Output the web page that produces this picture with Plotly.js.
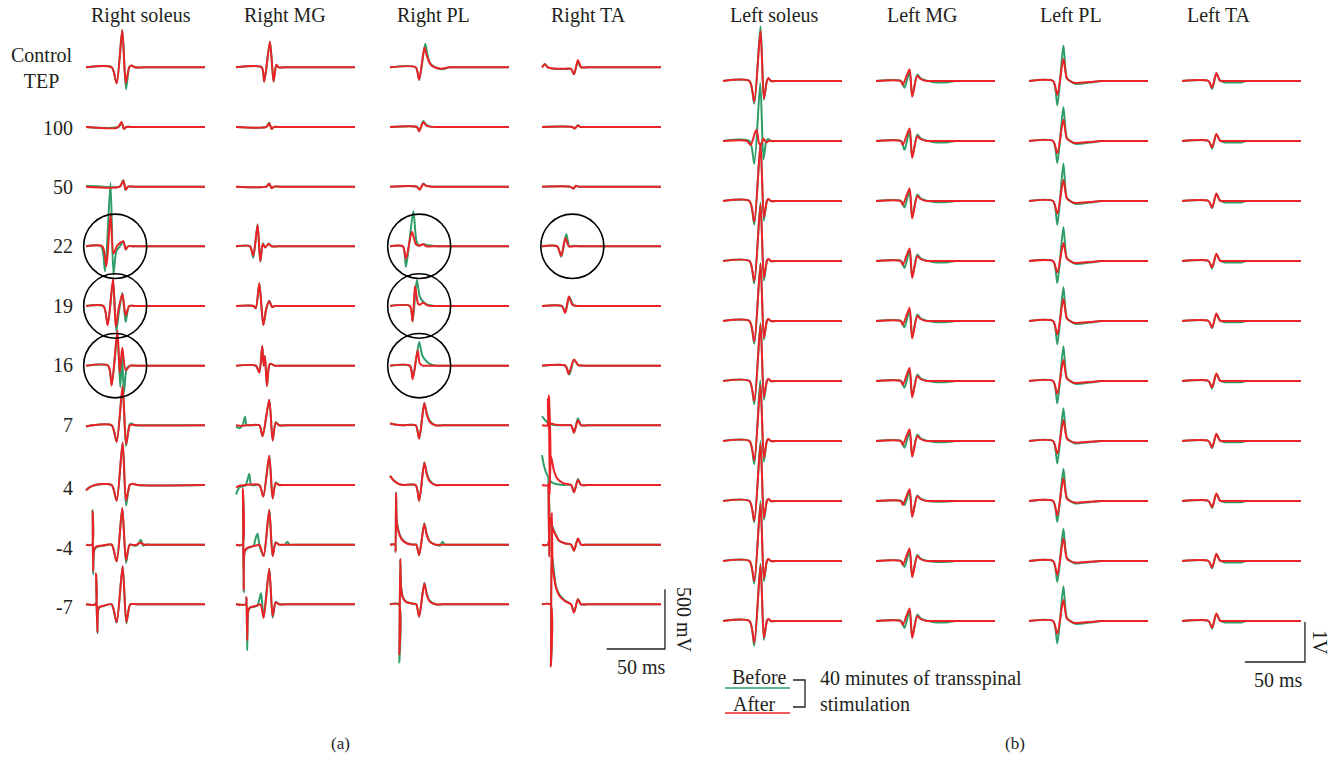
<!DOCTYPE html>
<html><head><meta charset="utf-8">
<script src="https://cdn.plot.ly/plotly-3.0.1.min.js"></script>
<style>html,body{margin:0;padding:0;background:#fff}#chart{width:1335px;height:757px}</style>
</head><body><div id="chart"></div>
<script>
// ---------- labels ----------
const rowLabels = ["Control<br>TEP","100","50","22","19","16","7","4","-4","-7"];
const musclesA = ["Right soleus","Right MG","Right PL","Right TA"];
const musclesB = ["Left soleus","Left MG","Left PL","Left TA"];

// ---------- panel (a): [time ms, amplitude mV] per row ----------
const rightSoleusBefore = [
 [[0,0],[22,0],[26.3,-134],[31.1,312],[34.3,-184],[37.1,0],[39,15],[42,0],[50,0],[102,0]],
 [[0,0],[28,0],[30.5,35],[32.5,-18],[34.5,0],[40,0],[102,0]],
 [[0,5],[10,3],[29,0],[32,56],[34,-28],[36,0],[42,0],[102,0]],
 [[0,0],[13,0],[16.3,-209],[21,530],[23.5,-237],[26,-40],[29,0],[32,42],[34,-28],[36,0],[42,0],[102,0]],
 [[0,0],[15,0],[18.6,-150],[23.2,200],[26,-210],[28.5,-30],[31.2,110],[34,-134],[37,0],[42,0],[102,0]],
 [[0,0],[19,0],[22,-160],[26.9,250],[29.4,-180],[31,90],[32.5,-230],[35,-20],[37.7,0],[43,0],[102,0]],
 [[0,-10],[5,0],[22,0],[26.3,-135],[31.4,320],[34.3,-173],[37.5,10],[39,15],[42,0],[50,0],[102,0]],
 [[0,-45],[3,-20],[8,0],[22,0],[26.3,-131],[31.4,357],[34.3,-173],[37.5,0],[40,10],[44,0],[102,0]],
 [[0,0],[5.2,0],[5.7,290],[6.1,-250],[7,-50],[9,-20],[15,-10],[22,0],[26.3,-140],[31.1,307],[34.3,-153],[37.5,0],[42,-10],[44,-5],[47,42],[49,-10],[51,0],[56,0],[102,0]],
 [[0,0],[8.2,0],[8.6,259],[9.7,-243],[11,-30],[15,-15],[22,0],[26.3,-153],[31.4,320],[34.6,-160],[38,0],[44,0],[102,0]]
];
const rightSoleusAfter = [
 [[0,0],[22,0],[26.3,-134],[31.1,312],[34,-134],[37,0],[39,15],[42,0],[50,0],[102,0]],
 [[0,0],[27,-5],[30.5,42],[32.5,-15],[34.5,0],[40,0],[102,0]],
 [[0,0],[29,0],[32,50],[34,-25],[36,0],[42,0],[102,0]],
 [[0,0],[14,0],[17.5,-167],[21,273],[23.5,-60],[27,10],[32,42],[34,-25],[36,0],[42,0],[102,0]],
 [[0,0],[15,0],[18.6,-162],[23.2,230],[25.5,-175],[28,-20],[31.2,100],[34,-80],[37,0],[42,0],[102,0]],
 [[0,0],[19,0],[22,-167],[26.9,296],[28.9,-60],[31.1,150],[34,-40],[37.7,0],[43,0],[102,0]],
 [[0,-10],[5,0],[22,0],[26.3,-139],[31.4,329],[34.3,-159],[37.5,0],[40,5],[45,0],[102,0]],
 [[0,-45],[3,-20],[8,0],[22,0],[26.3,-131],[31.4,357],[34.3,-131],[37.5,0],[40,10],[44,0],[102,0]],
 [[0,0],[5.2,0],[5.7,279],[6.1,-223],[7,-40],[9,-15],[15,-5],[22,0],[26.3,-140],[31.1,307],[34.3,-130],[37.5,0],[42,-5],[47,15],[50,0],[56,0],[102,0]],
 [[0,0],[8.2,0],[8.6,259],[9.7,-230],[11,-25],[15,-12],[22,0],[26.3,-150],[31.4,320],[34.6,-150],[38,0],[44,0],[102,0]]
];
const rightMGBefore = [
 [[0,0],[22,0],[24.2,-120],[29.1,215],[32.2,-120],[34.5,20],[36.5,0],[42,0],[102,0]],
 [[0,0],[26,0],[28.5,38],[30.5,-17],[32.5,0],[38,0],[102,0]],
 [[0,0],[26,0],[28.5,27],[30.5,-14],[32.5,0],[38,0],[102,0]],
 [[0,0],[12,0],[14.8,-96],[18.5,185],[20.8,-130],[23,25],[25,-10],[28,24],[30.5,0],[36,0],[102,0]],
 [[0,0],[15,0],[17,-20],[20,191],[23.4,-160],[26,-20],[28.5,44],[31,-10],[33,0],[38,0],[102,0]],
 [[0,0],[17,0],[20,-58],[22.5,164],[23.7,0],[24.8,80],[26.5,-170],[28.5,5],[30,15],[33,0],[38,0],[102,0]],
 [[0,-10],[3,-25],[6,10],[7.7,72],[9,5],[12,0],[20,0],[22.8,-92],[28.5,215],[31.4,-127],[34,27],[37,0],[42,0],[102,0]],
 [[0,-79],[3,-20],[8,-5],[11.4,92],[13,0],[20,0],[23.4,-96],[28.5,246],[31.4,-113],[34,20],[37,0],[42,0],[102,0]],
 [[0,0],[5.5,0],[5.9,450],[6.6,-400],[7.5,-60],[10,-30],[15,-10],[17,60],[18.5,92],[20,0],[23.7,-96],[28.5,290],[31.4,-96],[34,20],[37,0],[42,0],[44,24],[46,0],[52,0],[102,0]],
 [[0,0],[8.5,0],[9,60],[9.6,-386],[10.5,-60],[12,-27],[18,-15],[21.4,92],[22.5,0],[23.7,-113],[28.5,298],[31.4,-113],[34,20],[37,0],[42,0],[102,0]]
];
const rightMGAfter = [
 [[0,0],[22,0],[24.2,-120],[29.1,215],[32.2,-120],[34.5,20],[36.5,0],[42,0],[102,0]],
 [[0,0],[26,0],[28.5,32],[30.5,-15],[32.5,0],[38,0],[102,0]],
 [[0,0],[26,0],[28.5,24],[30.5,-12],[32.5,0],[38,0],[102,0]],
 [[0,0],[12,0],[14.8,-79],[18.5,178],[20.8,-125],[23,20],[25,-10],[28,20],[30.5,0],[36,0],[102,0]],
 [[0,0],[15,0],[17,-18],[20,191],[23.4,-160],[26,-20],[28.5,40],[31,-10],[33,0],[38,0],[102,0]],
 [[0,0],[17,0],[20,-58],[22.5,164],[23.7,0],[24.8,80],[26.5,-170],[28.5,5],[30,15],[33,0],[38,0],[102,0]],
 [[0,0],[5,-5],[10,0],[20,0],[22.8,-92],[28.5,215],[31.4,-127],[34,20],[37,0],[42,0],[102,0]],
 [[0,-20],[4,-5],[8,0],[20,0],[23.4,-96],[28.5,246],[31.4,-113],[34,15],[37,0],[42,0],[102,0]],
 [[0,0],[5.5,0],[5.9,470],[6.6,-380],[7.5,-50],[10,-25],[18,-5],[20,0],[23.7,-96],[28.5,290],[31.4,-96],[34,15],[37,0],[42,0],[102,0]],
 [[0,0],[8.5,0],[9,60],[9.6,-300],[10.5,-50],[12,-27],[18,-10],[21,0],[23.7,-113],[28.5,298],[31.4,-100],[34,15],[37,0],[42,0],[102,0]]
];
const rightPLBefore = [
 [[0,0],[22,0],[25,-104],[30.2,198],[32,110],[34,40],[37,10],[43.6,-17],[51,0],[58,0],[102,0]],
 [[0,0],[23,0],[25,-35],[28.5,50],[31,18],[34,5],[40,0],[46,0],[102,0]],
 [[0,0],[23,0],[25.5,-24],[28.5,26],[31,8],[36,0],[42,0],[102,0]],
 [[0,0],[11,0],[13.7,-174],[20,295],[22.8,40],[25.5,5],[28.5,20],[31,12],[36,5],[40,0],[46,0],[102,0]],
 [[0,0],[17,0],[19.4,-128],[23,219],[25.5,80],[28.5,35],[32,10],[38,0],[44,0],[102,0]],
 [[0,0],[17,0],[19.7,-97],[25,198],[27.5,90],[30,50],[34,15],[40,0],[46,0],[102,0]],
 [[0,15],[5,5],[11,0],[22,0],[25,-111],[29.4,190],[31.5,100],[34,40],[39,0],[45,0],[102,0]],
 [[0,76],[3,40],[7,12],[11,0],[22,0],[25,-132],[29.4,190],[31.5,100],[34,40],[39,0],[45,0],[102,0]],
 [[0,0],[4.5,0],[4.8,-60],[5.2,440],[5.8,200],[7.5,110],[10,50],[14,15],[20,0],[22.5,0],[25,-87],[29.4,180],[31.5,90],[34,30],[39,0],[43,-8],[45,24],[47,0],[52,0],[102,0]],
 [[0,0],[7.6,0],[8,-490],[8.8,380],[9.5,150],[11,60],[14,20],[20,5],[22.5,0],[25,-104],[29.4,180],[31.5,90],[34,30],[39,0],[45,0],[102,0]]
];
const rightPLAfter = [
 [[0,0],[22,0],[25,-104],[29.5,163],[31.5,100],[34,35],[37,5],[43.6,-12],[51,0],[58,0],[102,0]],
 [[0,0],[23,0],[25,-35],[28.5,42],[31,12],[34,3],[40,0],[46,0],[102,0]],
 [[0,0],[23,0],[25.5,-24],[28.5,22],[31,6],[36,0],[42,0],[102,0]],
 [[0,0],[11,0],[13.7,-104],[18.8,121],[22.2,17],[25,5],[28.5,17],[31,0],[37,0],[102,0]],
 [[0,0],[17,0],[19.4,-128],[21.4,167],[24,20],[25.5,10],[28.5,28],[32,5],[38,0],[44,0],[102,0]],
 [[0,0],[17,0],[19.4,-115],[23.7,128],[25.5,20],[28,0],[34,0],[102,0]],
 [[0,15],[5,5],[11,0],[22,0],[25,-111],[29.4,184],[31.5,90],[34,30],[39,0],[45,0],[102,0]],
 [[0,76],[3,40],[7,12],[11,0],[22,0],[25,-132],[29.4,187],[31.5,90],[34,30],[39,0],[45,0],[102,0]],
 [[0,0],[4.5,0],[4.8,-60],[5.2,434],[5.8,190],[7.5,100],[10,45],[14,12],[20,0],[22.5,0],[25,-87],[29.4,174],[31.5,80],[34,25],[39,0],[45,0],[102,0]],
 [[0,0],[7.6,0],[8,-420],[8.8,382],[9.5,140],[11,55],[14,18],[20,5],[22.5,0],[25,-104],[29.4,174],[31.5,80],[34,25],[39,0],[45,0],[102,0]]
];
const rightTABefore = [
 [[0,0],[2.5,28],[5,0],[10,-12],[20,-15],[25,-15],[27.4,-59],[30.8,45],[33.5,0],[39,0],[102,0]],
 [[0,0],[26,0],[28,-14],[30.8,14],[33,0],[38,0],[102,0]],
 [[0,0],[24,0],[27,-17],[29,8],[31,0],[36,0],[102,0]],
 [[0,0],[13,0],[16.5,-87],[20.8,104],[23.5,0],[28,5],[32,0],[38,0],[102,0]],
 [[0,0],[17,0],[19.9,-50],[23.5,75],[27,5],[32,0],[38,0],[102,0]],
 [[0,0],[20,0],[23.5,-75],[27.4,50],[31,5],[36,0],[42,0],[102,0]],
 [[0,76],[3,40],[6,15],[10,3],[15,0],[25,0],[27.4,-62],[30.8,59],[33.5,0],[39,0],[102,0]],
 [[0,250],[2,150],[4.5,80],[8,25],[12,8],[18,0],[25,0],[27.4,-62],[30.8,50],[33.5,0],[39,0],[102,0]],
 [[0,0],[5,0],[5.5,550],[6.2,-100],[7,230],[9,150],[12,80],[15,30],[20,10],[25,0],[27.4,-52],[30.8,52],[33.5,0],[39,0],[102,0]],
 [[0,0],[7.2,0],[7.6,-520],[8.4,420],[10,300],[12,150],[15,80],[20,30],[25,0],[27.4,-69],[30.8,42],[33.5,0],[39,0],[102,0]]
];
const rightTAAfter = [
 [[0,0],[2.5,25],[5,0],[10,-10],[20,-12],[25,-12],[27.4,-59],[30.8,62],[33.5,0],[39,0],[102,0]],
 [[0,0],[26,0],[28,-12],[30.8,12],[33,0],[38,0],[102,0]],
 [[0,0],[24,0],[27,-15],[29,7],[31,0],[36,0],[102,0]],
 [[0,0],[13,0],[16.5,-80],[20,69],[23,0],[27,0],[102,0]],
 [[0,0],[17,0],[19.9,-59],[23,80],[26,10],[30,0],[36,0],[102,0]],
 [[0,0],[20,0],[22.8,-69],[27.4,52],[31,5],[36,0],[42,0],[102,0]],
 [[0,0],[4.5,0],[5,220],[5.6,-30],[7,15],[12,5],[20,0],[25,0],[27.4,-62],[30.8,42],[33.5,0],[39,0],[102,0]],
 [[0,0],[5.5,0],[6,750],[6.6,-80],[7.5,250],[10,130],[13,55],[18,15],[25,0],[27.4,-62],[30.8,42],[33.5,0],[39,0],[102,0]],
 [[0,0],[5,0],[5.5,500],[6.2,-100],[7,225],[9,140],[12,75],[15,30],[20,10],[25,0],[27.4,-52],[30.8,52],[33.5,0],[39,0],[102,0]],
 [[0,0],[7.2,0],[7.6,-520],[8.4,770],[9.2,300],[10,250],[12,140],[15,70],[20,25],[25,0],[27.4,-69],[30.8,42],[33.5,0],[39,0],[102,0]]
];

// ---------- panel (b): [time ms, amplitude mV] per row ----------
const leftSoleusBefore = [
 [[0,0],[22,0],[26,-570],[31.2,1370],[34,-470],[36.5,0],[37.7,72],[40,0],[46,0],[99,0]],
 [[0,0],[22,0],[26,-570],[31,1450],[33.7,-460],[36,0],[37.5,50],[40,0],[46,0],[99,0]],
 [[0,0],[22,0],[26,-590],[31.2,1450],[34,-490],[36.5,0],[37.7,50],[40,0],[46,0],[99,0]],
 [[0,0],[22,0],[26,-560],[31.2,1460],[34,-490],[36.5,0],[37.7,50],[40,0],[46,0],[99,0]],
 [[0,0],[22,0],[26,-570],[31.2,1450],[34,-470],[36.5,0],[37.7,50],[40,0],[46,0],[99,0]],
 [[0,0],[22,0],[26,-580],[31.2,1450],[34,-470],[36.5,0],[37.7,50],[40,0],[46,0],[99,0]],
 [[0,0],[22,0],[26,-580],[31,1520],[34,-520],[36.5,0],[37.7,50],[40,0],[46,0],[99,0]],
 [[0,0],[22,0],[26,-530],[31.2,1500],[34,-470],[36.5,0],[37.7,50],[40,0],[46,0],[99,0]],
 [[0,0],[22,0],[26,-560],[31.2,1500],[34,-500],[36.5,0],[37.7,50],[40,0],[46,0],[99,0]],
 [[0,0],[22,0],[26,-620],[31.2,1430],[34,-470],[36.5,0],[37.7,50],[40,0],[46,0],[99,0]]
];
const leftSoleusAfter = [
 [[0,0],[22,0],[26,-520],[31.2,1250],[34,-440],[36.5,0],[37.7,72],[40,0],[46,0],[99,0]],
 [[0,0],[20,0],[23,-100],[26.5,200],[28,280],[30,-60],[31.5,-120],[33.5,60],[36,-40],[38,0],[44,0],[99,0]],
 [[0,0],[22,0],[26,-520],[31.2,1420],[34,-410],[36.5,0],[37.7,50],[40,0],[46,0],[99,0]],
 [[0,0],[22,0],[26,-500],[31.2,1420],[34,-420],[36.5,0],[37.7,50],[40,0],[46,0],[99,0]],
 [[0,0],[22,0],[26,-510],[31.2,1430],[34,-420],[36.5,0],[37.7,50],[40,0],[46,0],[99,0]],
 [[0,0],[22,0],[26,-500],[31.2,1420],[34,-400],[36.5,0],[37.7,50],[40,0],[46,0],[99,0]],
 [[0,0],[22,0],[26,-480],[31.2,1400],[34,-420],[36.5,0],[37.7,50],[40,0],[46,0],[99,0]],
 [[0,0],[22,0],[26,-490],[31.2,1430],[34,-420],[36.5,0],[37.7,50],[40,0],[46,0],[99,0]],
 [[0,0],[22,0],[26,-500],[31.2,1440],[34,-430],[36.5,0],[37.7,50],[40,0],[46,0],[99,0]],
 [[0,0],[22,0],[26,-540],[31.2,1400],[34,-420],[36.5,0],[37.7,50],[40,0],[46,0],[99,0]]
];
const leftMGBefore = [
 [[0,0],[21,0],[23.7,-170],[27.9,240],[30.1,-370],[34.3,160],[37,70],[42,10],[50,-35],[60,-30],[66,0],[72,0],[99,0]],
 [[0,0],[21,0],[23.7,-227],[27.9,260],[30.1,-400],[34.3,160],[37,70],[42,10],[50,-35],[60,-30],[66,0],[72,0],[99,0]],
 [[0,0],[21,0],[23.7,-160],[27.9,260],[30.1,-410],[34.3,160],[37,70],[42,10],[50,-30],[60,-25],[66,0],[72,0],[99,0]],
 [[0,0],[21,0],[23.7,-177],[27.9,260],[30.1,-400],[34.3,160],[37,70],[42,10],[50,-35],[60,-30],[66,0],[72,0],[99,0]],
 [[0,0],[21,0],[23.7,-160],[27.9,270],[30.1,-410],[34.3,160],[37,70],[42,10],[50,-30],[60,-25],[66,0],[72,0],[99,0]],
 [[0,0],[21,0],[23.7,-170],[27.9,270],[30.1,-390],[34.3,160],[37,70],[42,10],[50,-30],[60,-25],[66,0],[72,0],[99,0]],
 [[0,0],[21,0],[23.7,-170],[27.9,240],[30.1,-370],[34.3,160],[37,70],[42,10],[50,-30],[60,-25],[66,0],[72,0],[99,0]],
 [[0,0],[21,0],[23.7,-100],[27.9,250],[30.1,-380],[34.3,140],[37,60],[42,5],[50,-20],[60,-15],[66,0],[72,0],[99,0]],
 [[0,0],[21,0],[23.7,-148],[27.9,260],[30.1,-390],[34.3,150],[37,60],[42,5],[50,-25],[60,-20],[66,0],[72,0],[99,0]],
 [[0,0],[21,0],[23.7,-177],[27.9,260],[30.1,-400],[34.3,160],[37,70],[42,10],[50,-35],[60,-30],[66,0],[72,0],[99,0]]
];
const leftMGAfter = [
 [[0,0],[20.5,0],[22.3,-98],[27.9,295],[30.1,-394],[34.3,128],[37,50],[42,0],[48,0],[99,0]],
 [[0,0],[20.5,0],[22.3,-98],[27.9,315],[30.1,-423],[34.3,118],[37,50],[42,0],[48,0],[99,0]],
 [[0,0],[20.5,0],[22.3,-98],[27.9,315],[30.1,-435],[34.3,120],[37,50],[42,0],[48,0],[99,0]],
 [[0,0],[20.5,0],[22.3,-98],[27.9,315],[30.1,-423],[34.3,120],[37,50],[42,0],[48,0],[99,0]],
 [[0,0],[20.5,0],[22.3,-98],[27.9,325],[30.1,-435],[34.3,120],[37,50],[42,0],[48,0],[99,0]],
 [[0,0],[20.5,0],[22.3,-98],[27.9,325],[30.1,-410],[34.3,120],[37,50],[42,0],[48,0],[99,0]],
 [[0,0],[20.5,0],[22.3,-98],[27.9,295],[30.1,-394],[34.3,120],[37,50],[42,0],[48,0],[99,0]],
 [[0,0],[20.5,0],[22.3,-98],[27.9,295],[30.1,-394],[34.3,120],[37,50],[42,0],[48,0],[99,0]],
 [[0,0],[20.5,0],[22.3,-98],[27.9,315],[30.1,-404],[34.3,120],[37,50],[42,0],[48,0],[99,0]],
 [[0,0],[20.5,0],[22.3,-98],[27.9,315],[30.1,-423],[34.3,120],[37,50],[42,0],[48,0],[99,0]]
];
const leftPLBefore = [
 [[0,0],[20,0],[23.6,-610],[28.6,886],[31.4,80],[34,10],[38.4,-70],[50,-40],[60,0],[66,0],[99,0]],
 [[0,0],[20,0],[23.6,-550],[28.6,847],[31.4,80],[34,10],[38.4,-70],[50,-40],[60,0],[66,0],[99,0]],
 [[0,0],[20,0],[23.6,-590],[28.6,935],[31.4,80],[34,10],[38.4,-70],[50,-40],[60,0],[66,0],[99,0]],
 [[0,0],[20,0],[23.6,-550],[28.6,847],[31.4,80],[34,10],[38.4,-70],[50,-40],[60,0],[66,0],[99,0]],
 [[0,0],[20,0],[23.6,-581],[28.6,847],[31.4,80],[34,10],[38.4,-70],[50,-40],[60,0],[66,0],[99,0]],
 [[0,0],[20,0],[23.6,-561],[28.6,866],[31.4,80],[34,10],[38.4,-70],[50,-40],[60,0],[66,0],[99,0]],
 [[0,0],[20,0],[23.6,-561],[28.6,817],[31.4,80],[34,10],[38.4,-60],[50,-30],[60,0],[66,0],[99,0]],
 [[0,0],[20,0],[23.6,-521],[28.6,807],[31.4,80],[34,10],[38.4,-60],[50,-30],[60,0],[66,0],[99,0]],
 [[0,0],[20,0],[23.6,-522],[28.6,807],[31.4,80],[34,10],[38.4,-60],[50,-30],[60,0],[66,0],[99,0]],
 [[0,0],[20,0],[23.6,-561],[28.6,866],[31.4,80],[34,10],[38.4,-70],[50,-40],[60,0],[66,0],[99,0]]
];
const leftPLAfter = [
 [[0,0],[20,0],[23.6,-345],[28.6,551],[31.4,70],[34,0],[38.4,-50],[50,-25],[60,0],[66,0],[99,0]],
 [[0,0],[20,0],[23.6,-307],[28.6,532],[31.4,70],[34,0],[38.4,-50],[50,-25],[60,0],[66,0],[99,0]],
 [[0,0],[20,0],[23.6,-315],[28.6,522],[31.4,70],[34,0],[38.4,-50],[50,-25],[60,0],[66,0],[99,0]],
 [[0,0],[20,0],[23.6,-285],[28.6,453],[31.4,70],[34,0],[38.4,-50],[50,-25],[60,0],[66,0],[99,0]],
 [[0,0],[20,0],[23.6,-335],[28.6,551],[31.4,70],[34,0],[38.4,-50],[50,-25],[60,0],[66,0],[99,0]],
 [[0,0],[20,0],[23.6,-315],[28.6,522],[31.4,70],[34,0],[38.4,-50],[50,-25],[60,0],[66,0],[99,0]],
 [[0,0],[20,0],[23.6,-315],[28.6,522],[31.4,70],[34,0],[38.4,-40],[50,-20],[60,0],[66,0],[99,0]],
 [[0,0],[20,0],[23.6,-354],[28.6,561],[31.4,70],[34,0],[38.4,-40],[50,-20],[60,0],[66,0],[99,0]],
 [[0,0],[20,0],[23.6,-345],[28.6,561],[31.4,70],[34,0],[38.4,-40],[50,-20],[60,0],[66,0],[99,0]],
 [[0,0],[20,0],[23.6,-315],[28.6,522],[31.4,70],[34,0],[38.4,-50],[50,-25],[60,0],[66,0],[99,0]]
];
const leftTABefore = [
 [[0,0],[22,0],[25,-197],[28.6,180],[31.5,20],[35,-30],[50,-30],[53,0],[58,0],[99,0]],
 [[0,0],[22,0],[25,-187],[28.6,170],[31.5,20],[35,-30],[50,-30],[53,0],[58,0],[99,0]],
 [[0,0],[22,0],[25,-180],[28.6,175],[31.5,20],[35,-30],[50,-30],[53,0],[58,0],[99,0]],
 [[0,0],[22,0],[25,-185],[28.6,170],[31.5,20],[35,-30],[50,-30],[53,0],[58,0],[99,0]],
 [[0,0],[22,0],[25,-180],[28.6,175],[31.5,20],[35,-25],[50,-25],[53,0],[58,0],[99,0]],
 [[0,0],[22,0],[25,-185],[28.6,175],[31.5,20],[35,-25],[50,-25],[53,0],[58,0],[99,0]],
 [[0,0],[22,0],[25,-180],[28.6,170],[31.5,20],[35,-25],[50,-25],[53,0],[58,0],[99,0]],
 [[0,0],[22,0],[25,-175],[28.6,175],[31.5,20],[35,-25],[50,-25],[53,0],[58,0],[99,0]],
 [[0,0],[22,0],[25,-185],[28.6,170],[31.5,20],[35,-30],[50,-30],[53,0],[58,0],[99,0]],
 [[0,0],[22,0],[25,-190],[28.6,175],[31.5,20],[35,-30],[50,-30],[53,0],[58,0],[99,0]]
];
const leftTAAfter = [
 [[0,0],[22,0],[25,-167],[28.6,197],[31.5,10],[34,0],[40,0],[99,0]],
 [[0,0],[22,0],[25,-158],[28.6,177],[31.5,10],[34,0],[40,0],[99,0]],
 [[0,0],[22,0],[25,-160],[28.6,185],[31.5,10],[34,0],[40,0],[99,0]],
 [[0,0],[22,0],[25,-158],[28.6,180],[31.5,10],[34,0],[40,0],[99,0]],
 [[0,0],[22,0],[25,-160],[28.6,185],[31.5,10],[34,0],[40,0],[99,0]],
 [[0,0],[22,0],[25,-158],[28.6,185],[31.5,10],[34,0],[40,0],[99,0]],
 [[0,0],[22,0],[25,-160],[28.6,180],[31.5,10],[34,0],[40,0],[99,0]],
 [[0,0],[22,0],[25,-155],[28.6,185],[31.5,10],[34,0],[40,0],[99,0]],
 [[0,0],[22,0],[25,-160],[28.6,180],[31.5,10],[34,0],[40,0],[99,0]],
 [[0,0],[22,0],[25,-165],[28.6,185],[31.5,10],[34,0],[40,0],[99,0]]
];

// circled responses (panel a): column, row, centre time (ms)
const circleCols = [0,0,0,2,2,2,3];
const circleRows = [3,4,5,3,4,5,3];
const circleTimes = [25,25,25,25,25,25,26];

// scale bars
const scaleA = {ms:50, mV:500, label:"500 mV"};
const scaleB = {ms:50, mV:1000, label:"1V"};

// ---------- layout geometry (pixels) ----------
const W = 1335, H = 757;
const GREEN = '#2f9d68', RED = '#ec2227', INK = '#231f20';
const FONT = 'Liberation Serif, Times New Roman, serif';
const FS = 20;
const A = {cols:[86,236,390,542], T:102, pxPerMs:119/102, base0:67.3, rowPx:59.67, spacing:500};
const B = {cols:[723,876,1029,1182], T:99, pxPerMs:119/99, base0:81, rowPx:60, spacing:1500};
const PAD = 12; // ms of padding each side of a column
[A,B].forEach(P=>{ P.k = P.rowPx/P.spacing; P.top = P.base0/P.k; P.bot = P.top - H/P.k; });

const px = v => v / W;
const py = v => 1 - v / H;

const layout = {
  width: W, height: H, margin:{l:0,r:0,t:0,b:0}, showlegend:false,
  paper_bgcolor:'#fff', plot_bgcolor:'rgba(0,0,0,0)',
  annotations:[], shapes:[]
};
const traces = [];
const dataA = [[rightSoleusBefore,rightSoleusAfter],[rightMGBefore,rightMGAfter],[rightPLBefore,rightPLAfter],[rightTABefore,rightTAAfter]];
const dataB = [[leftSoleusBefore,leftSoleusAfter],[leftMGBefore,leftMGAfter],[leftPLBefore,leftPLAfter],[leftTABefore,leftTAAfter]];

layout.yaxis = {domain:[0,1], range:[A.bot,A.top], visible:false, fixedrange:true};
layout.yaxis2 = {domain:[0,1], range:[B.bot,B.top], visible:false, fixedrange:true, anchor:'x5'};

function axisName(i){ return i===0 ? 'x' : 'x'+(i+1); }
function addPanel(P, data, offset, yName){
  P.cols.forEach((x0,c)=>{
    const idx = offset + c;
    const key = idx===0 ? 'xaxis' : 'xaxis'+(idx+1);
    layout[key] = {domain:[px(x0 - PAD*P.pxPerMs), px(x0 + (P.T+PAD)*P.pxPerMs)],
                   range:[-PAD, P.T+PAD], visible:false, fixedrange:true, anchor: yName};
    data[c].forEach((rows,kk)=>{
      rows.forEach((pts,r)=>{
        traces.push({type:'scatter', mode:'lines', xaxis:axisName(idx), yaxis:yName,
          x:pts.map(p=>p[0]), y:pts.map(p=>p[1]-r*P.spacing),
          line:{color: kk ? RED : GREEN, width:2, shape:'spline', smoothing:0.7},
          hoverinfo:'skip'});
      });
    });
  });
}
addPanel(A, dataA, 0, 'y');
addPanel(B, dataB, 4, 'y2');

// circles
circleCols.forEach((c,i)=>{
  const rMs = 27, rMv = 270;
  const yc = -circleRows[i]*A.spacing;
  layout.shapes.push({type:'circle', xref:axisName(c), yref:'y',
    x0:circleTimes[i]-rMs, x1:circleTimes[i]+rMs, y0:yc-rMv, y1:yc+rMv,
    line:{color:'#000', width:1.6}, layer:'above'});
});

// scale bars (drawn through the axes)
(function(){
  const tEndA = 105.4, yBotA = A.top - 649/A.k;
  traces.push({type:'scatter', mode:'lines', xaxis:'x4', yaxis:'y',
    x:[tEndA-scaleA.ms, tEndA, tEndA], y:[yBotA, yBotA, yBotA+scaleA.mV],
    line:{color:INK, width:1.3}, hoverinfo:'skip'});
  const tEndB = 102.3, yBotB = B.top - 662/B.k;
  traces.push({type:'scatter', mode:'lines', xaxis:'x8', yaxis:'y2',
    x:[tEndB-scaleB.ms, tEndB, tEndB], y:[yBotB, yBotB, yBotB+scaleB.mV],
    line:{color:INK, width:1.3}, hoverinfo:'skip'});
})();

function text(t, x, y, opts={}){
  layout.annotations.push(Object.assign({text:t, xref:'paper', yref:'paper', x:px(x), y:py(y),
    showarrow:false, xanchor:'center', yanchor:'middle',
    font:{family:FONT, size:FS, color:INK}}, opts));
}
// column titles
const titleXA = [141, 285, 433, 588], titleXB = [774, 922, 1071, 1219];
musclesA.forEach((m,i)=>text(m, titleXA[i], 15));
musclesB.forEach((m,i)=>text(m, titleXB[i], 15));
// row labels
const labelY = [68,128,187,246,306,365,425,488,548,607];
rowLabels.forEach((l,i)=>{
  if(i===0) text(l, 42, 68, {align:'center'});
  else text(l, 75, labelY[i], {xanchor:'right'});
});
// scale bar labels
text(scaleA.label, 684, 620, {textangle:90});
text("50 ms", 641, 667);
text(scaleB.label, 1320, 642, {textangle:90});
text("50 ms", 1278, 680);
// legend
text("Before", 759, 677);
text("After", 754, 704);
text("40 minutes of transspinal", 818, 678, {xanchor:'left'});
text("stimulation", 818, 704, {xanchor:'left'});
layout.shapes.push({type:'line', xref:'paper', yref:'paper', x0:px(725), x1:px(790), y0:py(688), y1:py(688), line:{color:GREEN, width:1.5}});
layout.shapes.push({type:'line', xref:'paper', yref:'paper', x0:px(725), x1:px(790), y0:py(713), y1:py(713), line:{color:RED, width:1.5}});
layout.shapes.push({type:'path', xref:'paper', yref:'paper',
  path:`M ${px(793)},${py(680)} L ${px(805)},${py(680)} L ${px(805)},${py(707)} L ${px(793)},${py(707)}`,
  line:{color:INK, width:1.3}});
// panel letters
text("(a)", 340, 743, {font:{family:FONT, size:17, color:INK}});
text("(b)", 1015, 743, {font:{family:FONT, size:17, color:INK}});

Plotly.newPlot('chart', traces, layout, {staticPlot:true, displayModeBar:false});
</script></body></html>
